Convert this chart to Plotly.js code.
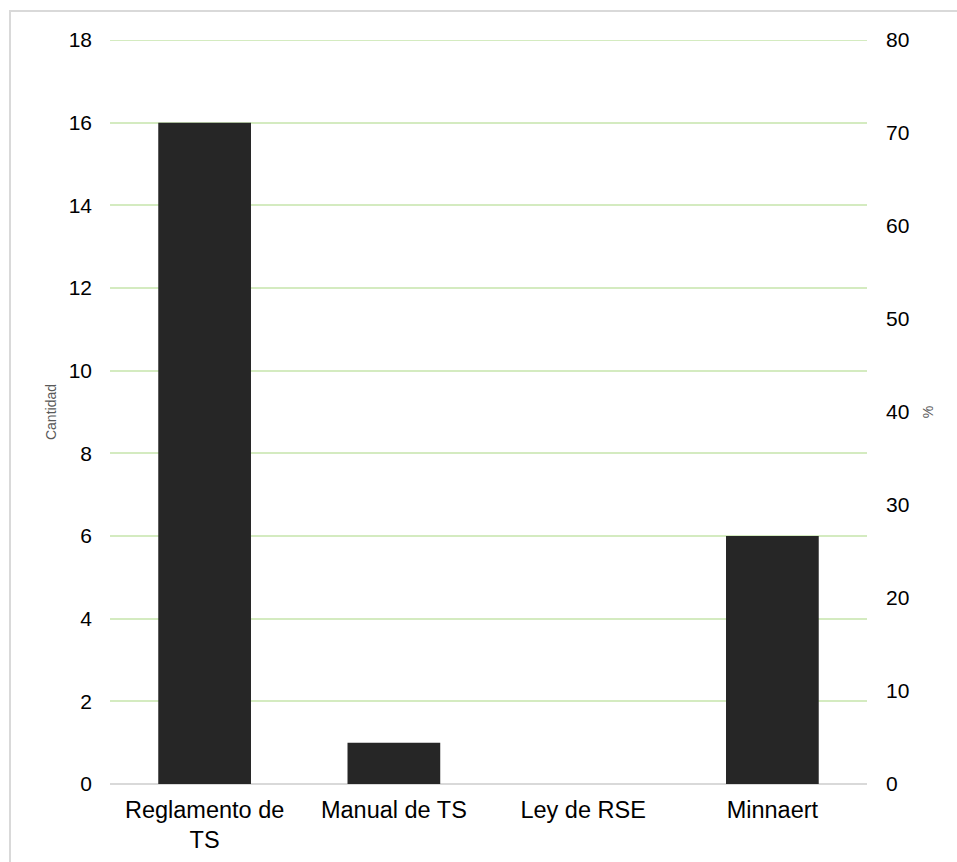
<!DOCTYPE html>
<html>
<head>
<meta charset="utf-8">
<script src="https://cdn.plot.ly/plotly-3.0.1.min.js"></script>
<style>
html,body{margin:0;padding:0;background:#fff;}
#wrap{position:relative;width:957px;height:862px;overflow:hidden;}
#chart{position:absolute;left:0;top:0;width:957px;height:862px;}
#frame{position:absolute;left:9px;top:10px;width:980px;height:900px;border:2px solid #d9d9d9;box-sizing:border-box;pointer-events:none;}
</style>
</head>
<body>
<div id="wrap"><div id="chart"></div><div id="frame"></div></div>
<script>
const categories = ["Reglamento de<br>TS", "Manual de TS", "Ley de RSE", "Minnaert"];
const cantidad = [16, 1, 0, 6];
const leftTicks = [0, 2, 4, 6, 8, 10, 12, 14, 16, 18];
const rightTicks = [0, 10, 20, 30, 40, 50, 60, 70, 80];
const leftMax = 18;
const rightMax = 80;

const font = "Liberation Sans, Arial, sans-serif";
const gridColor = "#d4ebc0";

const data = [{
  type: "bar",
  x: categories,
  y: cantidad,
  marker: {color: "#262626", line: {width: 0}},
  hoverinfo: "x+y"
}, {
  type: "scatter",
  mode: "markers",
  x: [],
  y: [],
  yaxis: "y2",
  showlegend: false,
  hoverinfo: "skip"
}];

const layout = {
  width: 957, height: 862,
  margin: {l: 110, r: 90, t: 40, b: 78},
  paper_bgcolor: "#ffffff",
  plot_bgcolor: "#ffffff",
  showlegend: false,
  bargap: 0.51,
  font: {family: font, color: "#000000"},
  shapes: [{
    type: "line", xref: "paper", yref: "y",
    x0: 0, x1: 1, y0: leftMax, y1: leftMax,
    line: {color: gridColor, width: 2},
    layer: "below"
  }],
  xaxis: {
    type: "category",
    tickfont: {family: font, size: 23.5, color: "#000000"},
    showgrid: false,
    showline: false,
    ticks: "",
    zeroline: false,
    ticklabelstandoff: 9
  },
  yaxis: {
    range: [0, leftMax],
    tickvals: leftTicks,
    tickfont: {family: font, size: 21, color: "#000000"},
    gridcolor: gridColor,
    gridwidth: 2,
    zeroline: true,
    zerolinecolor: "#d9d9d9",
    zerolinewidth: 2,
    showline: false,
    ticks: "",
    ticklabelstandoff: 17,
    title: {text: "Cantidad", font: {family: font, size: 14, color: "#595959"}, standoff: 8}
  },
  yaxis2: {
    range: [0, rightMax],
    tickvals: rightTicks,
    overlaying: "y",
    side: "right",
    anchor: "x",
    showgrid: false,
    zeroline: false,
    showline: false,
    ticks: "",
    ticklabelstandoff: 18,
    tickfont: {family: font, size: 21, color: "#000000"},
    title: {text: "%", font: {family: font, size: 14, color: "#595959"}, standoff: 14}
  }
};

Plotly.newPlot("chart", data, layout, {displayModeBar: false, staticPlot: true});
</script>
</body>
</html>
